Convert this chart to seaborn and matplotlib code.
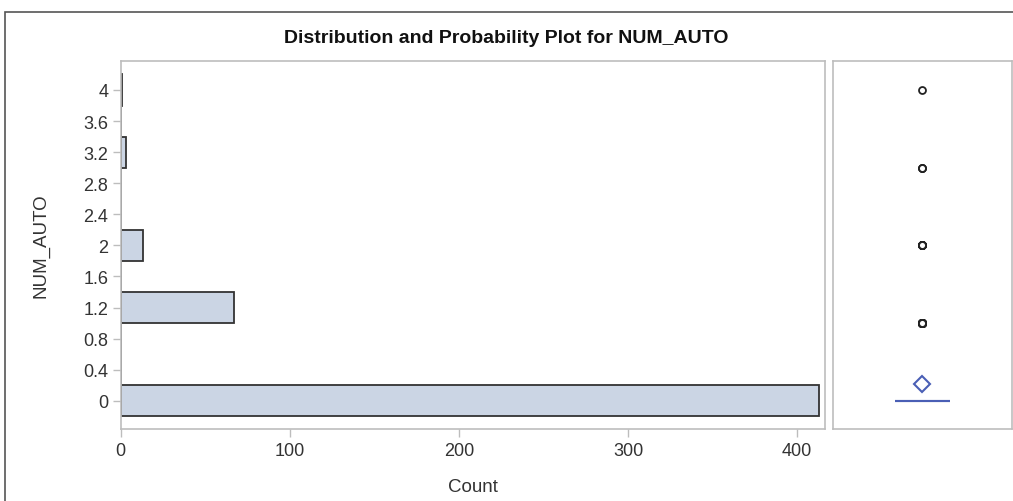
import numpy as np
import pandas as pd
import seaborn as sns
import matplotlib.pyplot as plt
from matplotlib.ticker import FormatStrFormatter
from matplotlib.patches import Rectangle

# valores observados de NUM_AUTO y su frecuencia
valores = [0, 1, 2, 3, 4]
conteos = [413, 67, 13, 3, 1]
bordes = [-0.2, 0.2, 0.6, 1.0, 1.4, 1.8, 2.2, 2.6, 3.0, 3.4, 3.8, 4.2]
yticks = [0, 0.4, 0.8, 1.2, 1.6, 2, 2.4, 2.8, 3.2, 3.6, 4]
xticks = [0, 100, 200, 300, 400]

df = pd.DataFrame({"NUM_AUTO": np.repeat(valores, conteos)})

sns.set_style("white")
plt.rcParams["font.family"] = ["Liberation Sans", "DejaVu Sans"]

gris = "#bdbdbd"
texto = "#333333"
azul = "#4a5fb5"

fig = plt.figure(figsize=(10.13, 5.02), dpi=100)
ax = fig.add_axes([0.1191, 0.1434, 0.6953, 0.7331])
ax2 = fig.add_axes([0.8223, 0.1434, 0.1767, 0.7331], sharey=ax)

# histograma horizontal
sns.histplot(data=df, y="NUM_AUTO", bins=bordes, ax=ax, color="#cbd5e4",
             edgecolor="#333333", linewidth=1.3, alpha=1)
ax.set_xlim(0, 416.5)
ax.set_ylim(-0.364, 4.373)
ax.set_xticks(xticks)
ax.set_yticks(yticks)
ax.yaxis.set_major_formatter(FormatStrFormatter("%g"))
ax.set_xlabel("Count", fontsize=13.5, color=texto, labelpad=14)
ax.set_ylabel("NUM_AUTO", fontsize=13.5, color=texto, labelpad=24)
ax.tick_params(axis="both", direction="out", length=6, width=1, color=gris,
               labelsize=13, labelcolor=texto, left=True, bottom=True, pad=3)
for s in ax.spines.values():
    s.set_color(gris)
    s.set_linewidth(1.2)

# diagrama de caja
sns.boxplot(data=df, y="NUM_AUTO", ax=ax2, width=0.31, whis=1.5,
            showmeans=True, color="white",
            boxprops=dict(edgecolor=azul, linewidth=1.5),
            medianprops=dict(color=azul, linewidth=1.5),
            whiskerprops=dict(color=azul, linewidth=1.5),
            capprops=dict(color=azul, linewidth=0),
            flierprops=dict(marker="o", markersize=5, markerfacecolor="white",
                            markeredgecolor="#222222", markeredgewidth=1.3),
            meanprops=dict(marker="D", markersize=8, markerfacecolor="white",
                           markeredgecolor=azul, markeredgewidth=1.5))
ax2.set_xlim(-0.5, 0.5)
ax2.set_xticks([])
ax2.set_ylabel("")
ax2.tick_params(left=False, labelleft=False)
for s in ax2.spines.values():
    s.set_color(gris)
    s.set_linewidth(1.2)

fig.suptitle("Distribution and Probability Plot for NUM_AUTO", x=0.5, y=0.924,
             va="center", fontsize=14, fontweight="bold", color="#111111")

# marco exterior
fig.patches.append(Rectangle((5 / 1013, -0.1), 1.2, 1 - 13 / 502 + 0.1,
                             transform=fig.transFigure, fill=False,
                             edgecolor="#555555", linewidth=1.2))

plt.savefig("out.png", dpi=100)
plt.close()
